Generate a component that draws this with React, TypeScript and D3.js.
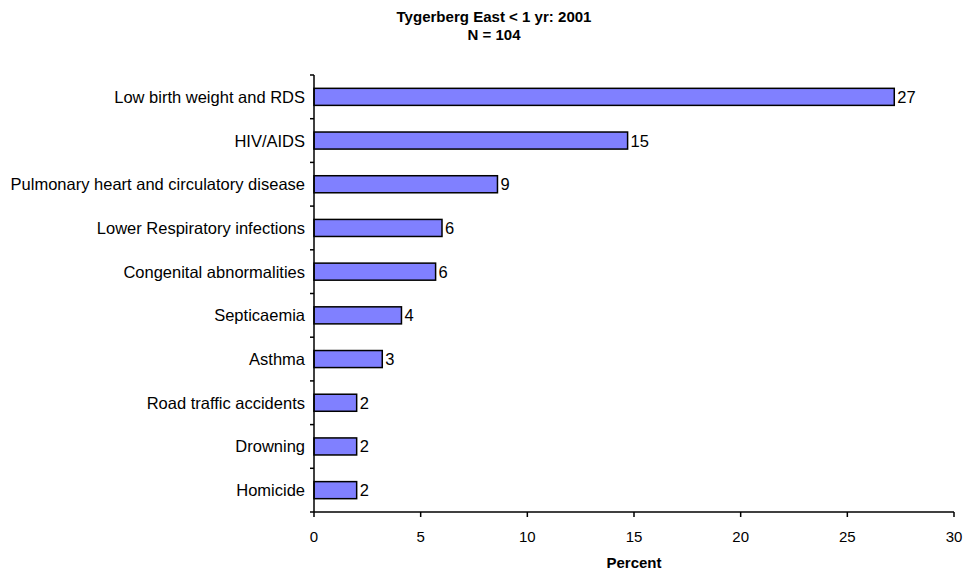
import React from "react";
import * as d3 from "d3";

const categories = [
  "Low birth weight and RDS",
  "HIV/AIDS",
  "Pulmonary heart and circulatory disease",
  "Lower Respiratory infections",
  "Congenital abnormalities",
  "Septicaemia",
  "Asthma",
  "Road traffic accidents",
  "Drowning",
  "Homicide",
];
const values = [27.2, 14.7, 8.6, 6.0, 5.7, 4.1, 3.2, 2.0, 2.0, 2.0];
const xTicks = [0, 5, 10, 15, 20, 25, 30];

export default function App() {
  const W = 966, H = 576;
  const left = 314, right = 954, top = 75, bottom = 512;
  const x = d3.scaleLinear().domain([0, 30]).range([left, right]);
  const y = d3.scaleBand().domain(categories).range([top, bottom]).paddingInner(0.61).paddingOuter(0.305);
  const band = (bottom - top) / categories.length;
  const font = "Liberation Sans, Arial, sans-serif";
  return (
    <svg width={W} height={H} style={{ position: "absolute", left: 0, top: 0 }} fontFamily={font}>
      <rect width={W} height={H} fill="#fff" />
      <text x={494} y={22} textAnchor="middle" fontSize={15} fontWeight="bold" textLength={195} lengthAdjust="spacingAndGlyphs">Tygerberg East &lt; 1 yr: 2001</text>
      <text x={494} y={40} textAnchor="middle" fontSize={15} fontWeight="bold">N = 104</text>
      {categories.map((c, i) => (
        <g key={c}>
          <rect x={x(0)} y={y(c)!} width={x(values[i]) - x(0)} height={y.bandwidth()} fill="#8080FF" stroke="#000" strokeWidth={1.5} />
          <text x={x(values[i]) + 3} y={y(c)! + y.bandwidth() / 2 + 6} fontSize={16.5}>{Math.round(values[i])}</text>
          <text x={305} y={y(c)! + y.bandwidth() / 2 + 6} textAnchor="end" fontSize={16.5}>{c}</text>
        </g>
      ))}
      {d3.range(categories.length + 1).map((i) => (
        <line key={i} x1={left - 4} x2={left} y1={top + i * band} y2={top + i * band} stroke="#000" strokeWidth={1.5} />
      ))}
      <line x1={left} x2={left} y1={top} y2={bottom} stroke="#000" strokeWidth={1.5} />
      <line x1={left} x2={right} y1={bottom} y2={bottom} stroke="#000" strokeWidth={1.5} />
      {xTicks.map((t) => (
        <g key={t}>
          <line x1={x(t)} x2={x(t)} y1={bottom} y2={bottom + 5} stroke="#000" strokeWidth={1.5} />
          <text x={x(t)} y={bottom + 30} textAnchor="middle" fontSize={15}>{t}</text>
        </g>
      ))}
      <text x={(left + right) / 2} y={568} textAnchor="middle" fontSize={15} fontWeight="bold">Percent</text>
    </svg>
  );
}
